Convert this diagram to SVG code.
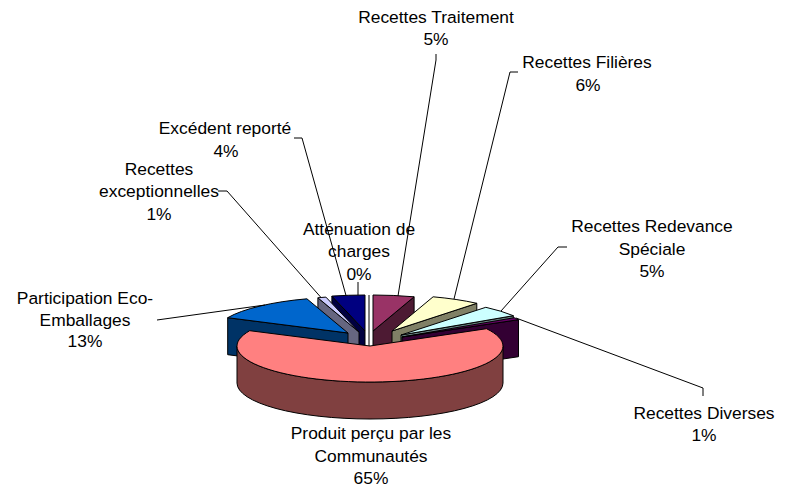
<svg xmlns="http://www.w3.org/2000/svg" width="788" height="488" viewBox="0 0 788 488">
<style>
  .f { stroke:#000; stroke-width:1; stroke-linejoin:round; }
  .lead { fill:none; stroke:#000; stroke-width:1; }
  text { font-family:"Liberation Sans", Arial, sans-serif; font-size:17.4px; fill:#000; text-anchor:middle; }
</style>
<rect width="788" height="488" fill="#fff"/>
<g id="slice-excedent">
  <path class="f" fill="#000040" d="M365,331 L331.9,296.1 L331.9,333.1 L365,368 Z"/>
  <path class="f" fill="#000080" d="M365,331 L331.9,296.1 A133,36 0 0 1 365,295 Z"/>
</g>
<g id="slice-attenuation">
  <path class="f" fill="none" d="M369,295 L369,368"/>
</g>
<g id="slice-exceptionnelles">
  <path class="f" fill="#666680" d="M359,332 L317.9,297.8 L317.9,334.8 L359,369 Z"/>
  <path class="f" fill="#CCCCFF" d="M359,332 L317.9,297.8 A133,36 0 0 1 325.9,297.1 Z"/>
</g>
<g id="slice-eco">
  <path class="f" fill="#003366" d="M348,333 L227.7,317.7 L227.7,354.7 L348,370 Z"/>
  <path class="f" fill="#0066CC" d="M348,333 L227.7,317.7 A133,36 0 0 1 306.9,298.8 Z"/>
</g>
<g id="slice-traitement">
  <path class="f" fill="#4D1A33" d="M373,331 L414.1,296.8 L414.1,333.8 L373,368 Z"/>
  <path class="f" fill="#993366" d="M373,331 L373,295 A133,36 0 0 1 414.1,296.8 Z"/>
</g>
<g id="slice-filieres">
  <path class="f" fill="#808066" d="M392,331 L476.8,303.3 L476.8,340.3 L392,368 Z"/>
  <path class="f" fill="#FFFFCC" d="M392,331 L433.1,296.8 A133,36 0 0 1 476.8,303.3 Z"/>
</g>
<g id="slice-redevance">
  <path class="f" fill="#668080" d="M401,335 L513.3,315.7 L513.3,352.7 L401,372 Z"/>
  <path class="f" fill="#CCFFFF" d="M401,335 L485.8,307.3 A133,36 0 0 1 513.3,315.7 Z"/>
</g>
<g id="slice-diverses">
  <path class="f" fill="#330033" d="M402,337 L518.5,319.7 L518.5,356.7 L402,374 Z"/>
  <path class="f" fill="#660066" d="M402,337 L514.3,317.7 A133,36 0 0 1 518.5,319.7 Z"/>
</g>
<g id="slice-produit">
  <path class="f" fill="#804040" d="M503,346 A133,36 0 0 1 237,346 L237,383 A133,36 0 0 0 503,383 Z"/>
  <path class="f" fill="#FF8080" d="M370,346 L486.5,328.7 A133,36 0 1 1 249.7,330.7 Z"/>
</g>
<g id="connectors">
  <polyline class="lead" points="436,54 436,60 398,296"/>
  <polyline class="lead" points="518,72 510,72 454,299"/>
  <polyline class="lead" points="567,247 558,247 501,311"/>
  <polyline class="lead" points="516,318 703,388 703,396"/>
  <polyline class="lead" points="157,320 265,305"/>
  <polyline class="lead" points="218,191 227,191 321,297.5"/>
  <polyline class="lead" points="294,138 302,138 346,295.5"/>
  <polyline class="lead" points="358,282 358,295"/>
</g>
<g id="label-traitement"><text x="436" y="22.5">Recettes Traitement</text><text x="436" y="45">5%</text></g>
<g id="label-filieres"><text x="587" y="68">Recettes Filières</text><text x="588" y="91">6%</text></g>
<g id="label-redevance"><text x="652" y="232">Recettes Redevance</text><text x="652" y="255">Spéciale</text><text x="652" y="277">5%</text></g>
<g id="label-diverses"><text x="704" y="419">Recettes Diverses</text><text x="704" y="441">1%</text></g>
<g id="label-produit"><text x="371" y="439">Produit perçu par les</text><text x="371" y="461.5">Communautés</text><text x="371" y="483.5">65%</text></g>
<g id="label-eco"><text x="85" y="304">Participation Eco-</text><text x="85" y="326">Emballages</text><text x="85" y="347">13%</text></g>
<g id="label-exceptionnelles"><text x="159" y="175">Recettes</text><text x="159" y="197">exceptionnelles</text><text x="159" y="220">1%</text></g>
<g id="label-excedent"><text x="225" y="134">Excédent reporté</text><text x="226" y="157">4%</text></g>
<g id="label-attenuation"><text x="359" y="235">Atténuation de</text><text x="359" y="257">charges</text><text x="359" y="280">0%</text></g>
</svg>
